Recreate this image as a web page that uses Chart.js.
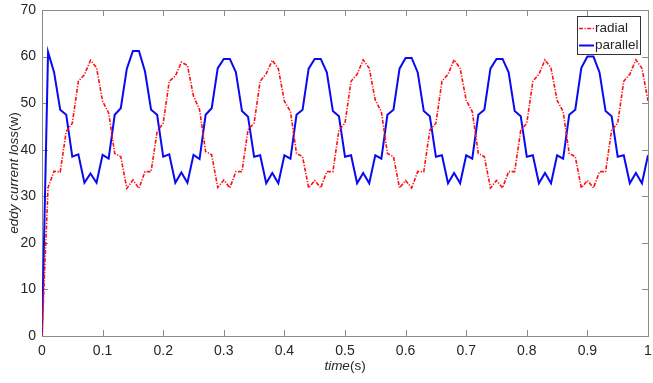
<!DOCTYPE html>
<html>
<head>
<meta charset="utf-8">
<script src="https://cdn.jsdelivr.net/npm/chart.js@4/dist/chart.umd.min.js"></script>
<style>
	body { margin: 0; background: #fff; }
	canvas { display: block; }
</style>
</head>
<body>
<canvas id="loss" width="653" height="383"></canvas>
<script>
// sample times (s)
const times = [
	0.00, 0.01, 0.02, 0.03, 0.04, 0.05, 0.06, 0.07, 0.08, 0.09,
	0.10, 0.11, 0.12, 0.13, 0.14, 0.15, 0.16, 0.17, 0.18, 0.19,
	0.20, 0.21, 0.22, 0.23, 0.24, 0.25, 0.26, 0.27, 0.28, 0.29,
	0.30, 0.31, 0.32, 0.33, 0.34, 0.35, 0.36, 0.37, 0.38, 0.39,
	0.40, 0.41, 0.42, 0.43, 0.44, 0.45, 0.46, 0.47, 0.48, 0.49,
	0.50, 0.51, 0.52, 0.53, 0.54, 0.55, 0.56, 0.57, 0.58, 0.59,
	0.60, 0.61, 0.62, 0.63, 0.64, 0.65, 0.66, 0.67, 0.68, 0.69,
	0.70, 0.71, 0.72, 0.73, 0.74, 0.75, 0.76, 0.77, 0.78, 0.79,
	0.80, 0.81, 0.82, 0.83, 0.84, 0.85, 0.86, 0.87, 0.88, 0.89,
	0.90, 0.91, 0.92, 0.93, 0.94, 0.95, 0.96, 0.97, 0.98, 0.99,
	1.00
];

// eddy current loss (W)
const radial = [
	0, 31.9, 35.4, 35.2, 43.9, 45.7, 54.7, 56.1, 59.2, 57.6,
	50.4, 47.9, 39.2, 38.5, 31.7, 33.5, 31.7, 35.3, 35.3, 43.9,
	45.7, 54.7, 55.8, 58.8, 58.1, 51.5, 48.6, 39.6, 38.9, 31.9,
	33.5, 31.8, 35.3, 35.3, 44.3, 45.7, 54.7, 56.3, 59.2, 57.4,
	50.4, 48.2, 39.2, 38.5, 31.8, 33.4, 31.8, 35.3, 35.3, 44.2,
	45.7, 54.7, 56.2, 59.3, 57.5, 50.6, 48.2, 39.2, 38.5, 31.8,
	33.4, 31.8, 35.3, 35.3, 44.2, 45.7, 54.7, 56.2, 59.3, 57.5,
	50.6, 48.2, 39.2, 38.5, 31.8, 33.4, 31.8, 35.3, 35.3, 44.2,
	45.7, 54.7, 56.2, 59.3, 57.5, 50.6, 48.2, 39.2, 38.5, 31.8,
	33.4, 31.8, 35.3, 35.3, 44.2, 45.7, 54.7, 56.2, 59.3, 57.5,
	50.5
];
const parallel = [
	0, 61.0, 56.6, 48.6, 47.5, 38.5, 39.0, 32.9, 34.9, 32.9,
	38.9, 38.1, 47.5, 48.9, 57.4, 61.2, 61.2, 56.8, 48.6, 47.5,
	38.5, 39.0, 32.9, 35.1, 32.9, 38.9, 38.0, 47.5, 48.9, 57.5,
	59.5, 59.5, 56.6, 48.3, 47.1, 38.5, 38.8, 32.8, 35.0, 32.8,
	38.8, 38.1, 47.5, 48.6, 57.4, 59.5, 59.5, 56.6, 48.3, 47.2,
	38.5, 38.8, 32.8, 35.0, 32.8, 38.8, 38.1, 47.5, 48.6, 57.4,
	59.7, 59.7, 56.6, 48.3, 47.2, 38.5, 38.8, 32.8, 35.0, 32.8,
	38.8, 38.1, 47.5, 48.6, 57.4, 59.5, 59.5, 56.6, 48.3, 47.2,
	38.5, 38.8, 32.8, 35.0, 32.8, 38.8, 38.1, 47.5, 48.6, 57.6,
	60.0, 60.0, 56.6, 48.3, 47.2, 38.5, 38.8, 32.8, 35.0, 32.8,
	38.8
];

const xTicks = [0, 0.1, 0.2, 0.3, 0.4, 0.5, 0.6, 0.7, 0.8, 0.9, 1];
const yTicks = [0, 10, 20, 30, 40, 50, 60, 70];

const FONT = 'Arial, "Liberation Sans", sans-serif';
const TEXT = '#262626';
const AXIS = '#8a8a8a';

const toPoints = arr => arr.map((v, i) => ({ x: times[i], y: v }));

// box, inward ticks, legend and mixed italic titles like the matlab figure
const matlabLook = {
	id: 'matlabLook',
	beforeDatasetsDraw(chart) {
		const { ctx, chartArea: a, scales } = chart;
		ctx.save();
		ctx.strokeStyle = AXIS;
		ctx.lineWidth = 1;
		ctx.strokeRect(a.left + 0.5, a.top + 0.5, a.right - a.left, a.bottom - a.top);
		ctx.beginPath();
		xTicks.forEach(t => {
			const px = Math.round(scales.x.getPixelForValue(t)) + 0.5;
			ctx.moveTo(px, a.bottom); ctx.lineTo(px, a.bottom - 6);
			ctx.moveTo(px, a.top); ctx.lineTo(px, a.top + 6);
		});
		yTicks.forEach(t => {
			const py = Math.round(scales.y.getPixelForValue(t)) + 0.5;
			ctx.moveTo(a.left, py); ctx.lineTo(a.left + 6, py);
			ctx.moveTo(a.right, py); ctx.lineTo(a.right - 6, py);
		});
		ctx.stroke();
		ctx.restore();
	},
	afterDraw(chart) {
		const { ctx, chartArea: a } = chart;
		ctx.save();

		// legend
		const lx = 577, ly = 16, lw = 63, lh = 38;
		ctx.fillStyle = '#fff';
		ctx.fillRect(lx, ly, lw, lh);
		ctx.strokeStyle = '#333';
		ctx.lineWidth = 1;
		ctx.strokeRect(lx + 0.5, ly + 0.5, lw, lh);
		chart.data.datasets.forEach((ds, i) => {
			const cy = ly + 12.5 + i * 17;
			ctx.strokeStyle = ds.borderColor;
			ctx.lineWidth = ds.borderWidth;
			ctx.setLineDash(ds.borderDash || []);
			ctx.beginPath();
			ctx.moveTo(lx + 2, cy); ctx.lineTo(lx + 17, cy);
			ctx.stroke();
			ctx.setLineDash([]);
			ctx.fillStyle = TEXT;
			ctx.font = '13.5px ' + FONT;
			ctx.textBaseline = 'middle';
			ctx.textAlign = 'left';
			ctx.fillText(ds.label, lx + 18, cy);
		});

		// axis titles, italic part + upright part
		const mixed = (parts, cx, cy) => {
			const widths = parts.map(p => { ctx.font = p[1] + '13.5px ' + FONT; return ctx.measureText(p[0]).width; });
			let x = cx - widths.reduce((s, w) => s + w, 0) / 2;
			parts.forEach((p, i) => {
				ctx.font = p[1] + '13.5px ' + FONT;
				ctx.fillText(p[0], x, cy);
				x += widths[i];
			});
		};
		ctx.fillStyle = TEXT;
		ctx.textBaseline = 'middle';
		ctx.textAlign = 'left';
		mixed([['time', 'italic '], ['(s)', '']], (a.left + a.right) / 2, 366);
		ctx.translate(14, (a.top + a.bottom) / 2);
		ctx.rotate(-Math.PI / 2);
		mixed([['eddy current loss', 'italic '], ['(w)', '']], 0, 0);
		ctx.restore();
	}
};

const config_loss = {
	type: 'line',
	data: {
		datasets: [
			{
				label: 'radial',
				data: toPoints(radial),
				borderColor: '#ff1010',
				borderWidth: 1.6,
				borderDash: [4, 1.5, 1.2, 1.5],
				pointRadius: 0,
				tension: 0,
			},
			{
				label: 'parallel',
				data: toPoints(parallel),
				borderColor: '#0a0af0',
				borderWidth: 2,
				pointRadius: 0,
				tension: 0,
			},
		]
	},
	options: {
		responsive: false,
		animation: false,
		layout: {
			padding: { top: 10, right: 5, left: 0, bottom: 0 }
		},
		plugins: {
			legend: { display: false },
			title: { display: false },
			tooltip: { enabled: false }
		},
		scales: {
			x: {
				type: 'linear',
				min: 0,
				max: 1,
				afterBuildTicks: s => { s.ticks = xTicks.map(v => ({ value: v })); },
				afterFit: s => { s.height = 47; s.paddingLeft = 0; s.paddingRight = 0; },
				ticks: {
					padding: 7,
					color: TEXT,
					font: { family: FONT, size: 14 },
					maxRotation: 0,
					callback: v => String(+v.toFixed(1))
				},
				grid: { display: false, drawTicks: false },
				border: { display: false }
			},
			y: {
				min: 0,
				max: 70,
				afterBuildTicks: s => { s.ticks = yTicks.map(v => ({ value: v })); },
				afterFit: s => { s.width = 42; s.paddingTop = 0; s.paddingBottom = 0; },
				ticks: {
					padding: 6,
					color: TEXT,
					font: { family: FONT, size: 14 }
				},
				grid: { display: false, drawTicks: false },
				border: { display: false }
			}
		}
	},
	plugins: [matlabLook]
};

const loss = new Chart(document.getElementById('loss'), config_loss);
</script>
</body>
</html>
